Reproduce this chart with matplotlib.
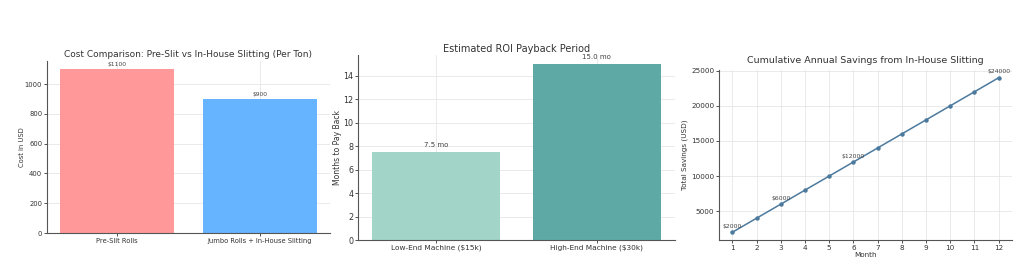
import matplotlib
matplotlib.use("Agg")
import matplotlib.pyplot as plt

# Data
cost_categories = ["Pre-Slit Rolls", "Jumbo Rolls + In-House Slitting"]
cost_values = [1100, 900]
cost_labels = ["$1100", "$900"]

roi_categories = ["Low-End Machine ($15k)", "High-End Machine ($30k)"]
roi_values = [7.5, 15.0]

months = [1, 2, 3, 4, 5, 6, 7, 8, 9, 10, 11, 12]
savings = [2000, 4000, 6000, 8000, 10000, 12000, 14000, 16000, 18000, 20000, 22000, 24000]
annotated_months = [1, 3, 6, 12]

W, H = 1024, 276
fig = plt.figure(figsize=(W / 100, H / 100), dpi=100)
fig.patch.set_facecolor("white")

def px_axes(left, top, right, bottom):
    return fig.add_axes([left / W, 1 - bottom / H, (right - left) / W, (bottom - top) / H])

def style(ax, tick_fs):
    for s in ["top", "right"]:
        ax.spines[s].set_visible(False)
    for s in ["left", "bottom"]:
        ax.spines[s].set_color("#555555")
        ax.spines[s].set_linewidth(0.8)
    ax.grid(True, color="#e6e6e6", linewidth=0.6)
    ax.set_axisbelow(True)
    ax.tick_params(labelsize=tick_fs, colors="#333333", length=2, width=0.6, pad=1.5)

# Panel 1
ax1 = px_axes(47, 61, 330, 233)
style(ax1, 4.9)
bars = ax1.bar(cost_categories, cost_values, color=["#ff9999", "#66b3ff"], width=0.8)
for b, lab in zip(bars, cost_labels):
    ax1.text(b.get_x() + b.get_width() / 2, b.get_height() + 15, lab,
             ha="center", va="bottom", fontsize=4.3, color="#444444")
ax1.set_title("Cost Comparison: Pre-Slit vs In-House Slitting (Per Ton)", fontsize=6.5,
              color="#333333", pad=3)
ax1.set_ylabel("Cost in USD", fontsize=4.9, color="#333333", labelpad=0)

# Panel 2
ax2 = px_axes(358, 55, 675, 240)
style(ax2, 5.3)
ax2.tick_params(axis="y", labelsize=5.8)
bars2 = ax2.bar(roi_categories, roi_values, color=["#a2d4c7", "#5ea9a5"], width=0.8)
for b, v in zip(bars2, roi_values):
    ax2.text(b.get_x() + b.get_width() / 2, b.get_height() + 0.3, f"{v:.1f} mo",
             ha="center", va="bottom", fontsize=5, color="#444444")
ax2.set_title("Estimated ROI Payback Period", fontsize=7, color="#333333", pad=2)
ax2.set_ylabel("Months to Pay Back", fontsize=5.5, color="#333333", labelpad=1)

# Panel 3
ax3 = px_axes(719, 70, 1012, 240)
style(ax3, 5.2)
ax3.plot(months, savings, marker="o", markersize=2.2, color="#4c7a9e", linewidth=1.1)
for m, s in zip(months, savings):
    if m in annotated_months:
        ax3.annotate(f"${s}", (m, s), textcoords="offset points", xytext=(0, 2.5),
                     ha="center", va="bottom", fontsize=4.4, color="#444444")
ax3.set_xticks(months)
ax3.set_title("Cumulative Annual Savings from In-House Slitting", fontsize=6.8,
              color="#333333", pad=5)
ax3.set_xlabel("Month", fontsize=5.2, color="#333333", labelpad=1)
ax3.set_ylabel("Total Savings (USD)", fontsize=5.2, color="#333333", labelpad=2)

fig.savefig("out.png", dpi=100, facecolor="white")
